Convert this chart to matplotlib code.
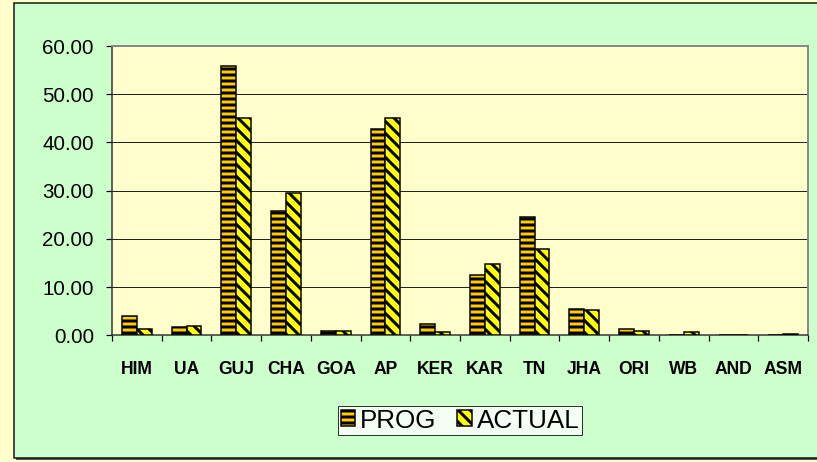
import matplotlib.pyplot as plt
from matplotlib.patches import Rectangle
import numpy as np

plt.rcParams['font.family'] = ['Liberation Sans', 'DejaVu Sans']
plt.rcParams['hatch.linewidth'] = 3.0

states = ['HIM', 'UA', 'GUJ', 'CHA', 'GOA', 'AP', 'KER', 'KAR', 'TN', 'JHA',
          'ORI', 'WB', 'AND', 'ASM']
prog = [3.9, 1.8, 55.9, 25.8, 0.9, 42.8, 2.3, 12.6, 24.5, 5.5, 1.3, 0.0, 0.0, 0.0]
actual = [1.4, 2.0, 45.1, 29.5, 0.9, 45.0, 0.6, 14.7, 18.0, 5.2, 0.8, 0.7, 0.0, 0.3]

fig = plt.figure(figsize=(817 / 72, 462 / 72), dpi=72)
fig.patch.set_facecolor('#FFFFCC')

# chart area panel
fig.patches.append(Rectangle((16 / 817, 1 - 460 / 462), 1.0, 454 / 462,
                             transform=fig.transFigure, facecolor='#555555',
                             edgecolor='none', zorder=-2))
fig.patches.append(Rectangle((14 / 817, 1 - 458 / 462), 1.0, 455 / 462,
                             transform=fig.transFigure, facecolor='#CCFFCC',
                             edgecolor='#111111', linewidth=1.5, zorder=-1))

ax = fig.add_axes([112 / 817, 1 - 335.3 / 462, 696 / 817, 289.3 / 462])
ax.set_facecolor('#FFFFCC')

x = np.arange(len(states))
w = 0.3
ax.bar(x - w / 2, prog, w, color='#FFCC00', edgecolor='black', hatch='--',
       linewidth=1.5, label='PROG', zorder=3)
ax.bar(x + w / 2, actual, w, color='#FFFF00', edgecolor='black', hatch='\\\\',
       linewidth=1.5, label='ACTUAL', zorder=3)

ax.set_xlim(-0.5, len(states) - 0.5)
ax.set_ylim(0, 60)
ax.set_yticks(np.arange(0, 61, 10))
ax.set_yticklabels([f'{v:.2f}' for v in np.arange(0, 61, 10)], fontsize=20.5)
ax.set_xticks(x)
ax.set_xticklabels(states, fontsize=17.5, fontweight='bold')
ax.set_xticks(np.arange(-0.5, len(states), 1), minor=True)
ax.tick_params(axis='x', which='major', length=0, pad=26)
ax.tick_params(axis='x', which='minor', length=6, width=1.2, direction='out')
ax.tick_params(axis='y', length=6, width=1.2, pad=12, direction='out')
ax.grid(axis='y', color='#222222', linewidth=1, zorder=1)

for s in ['left', 'bottom']:
    ax.spines[s].set_color('#333333')
    ax.spines[s].set_linewidth(1.5)
for s in ['top', 'right']:
    ax.spines[s].set_color('#888888')
    ax.spines[s].set_linewidth(2)

leg = fig.legend(loc='center', bbox_to_anchor=(460 / 817, 1 - 420.5 / 462),
                 ncol=2, fontsize=26, frameon=True, fancybox=False,
                 handlelength=0.55, handleheight=0.55, handletextpad=0.2,
                 columnspacing=0.8, borderpad=0.1, borderaxespad=0)
leg.get_frame().set_edgecolor('black')
leg.get_frame().set_linewidth(1)
leg.get_frame().set_facecolor('white')

fig.savefig('out.png', dpi=72, facecolor=fig.get_facecolor())
